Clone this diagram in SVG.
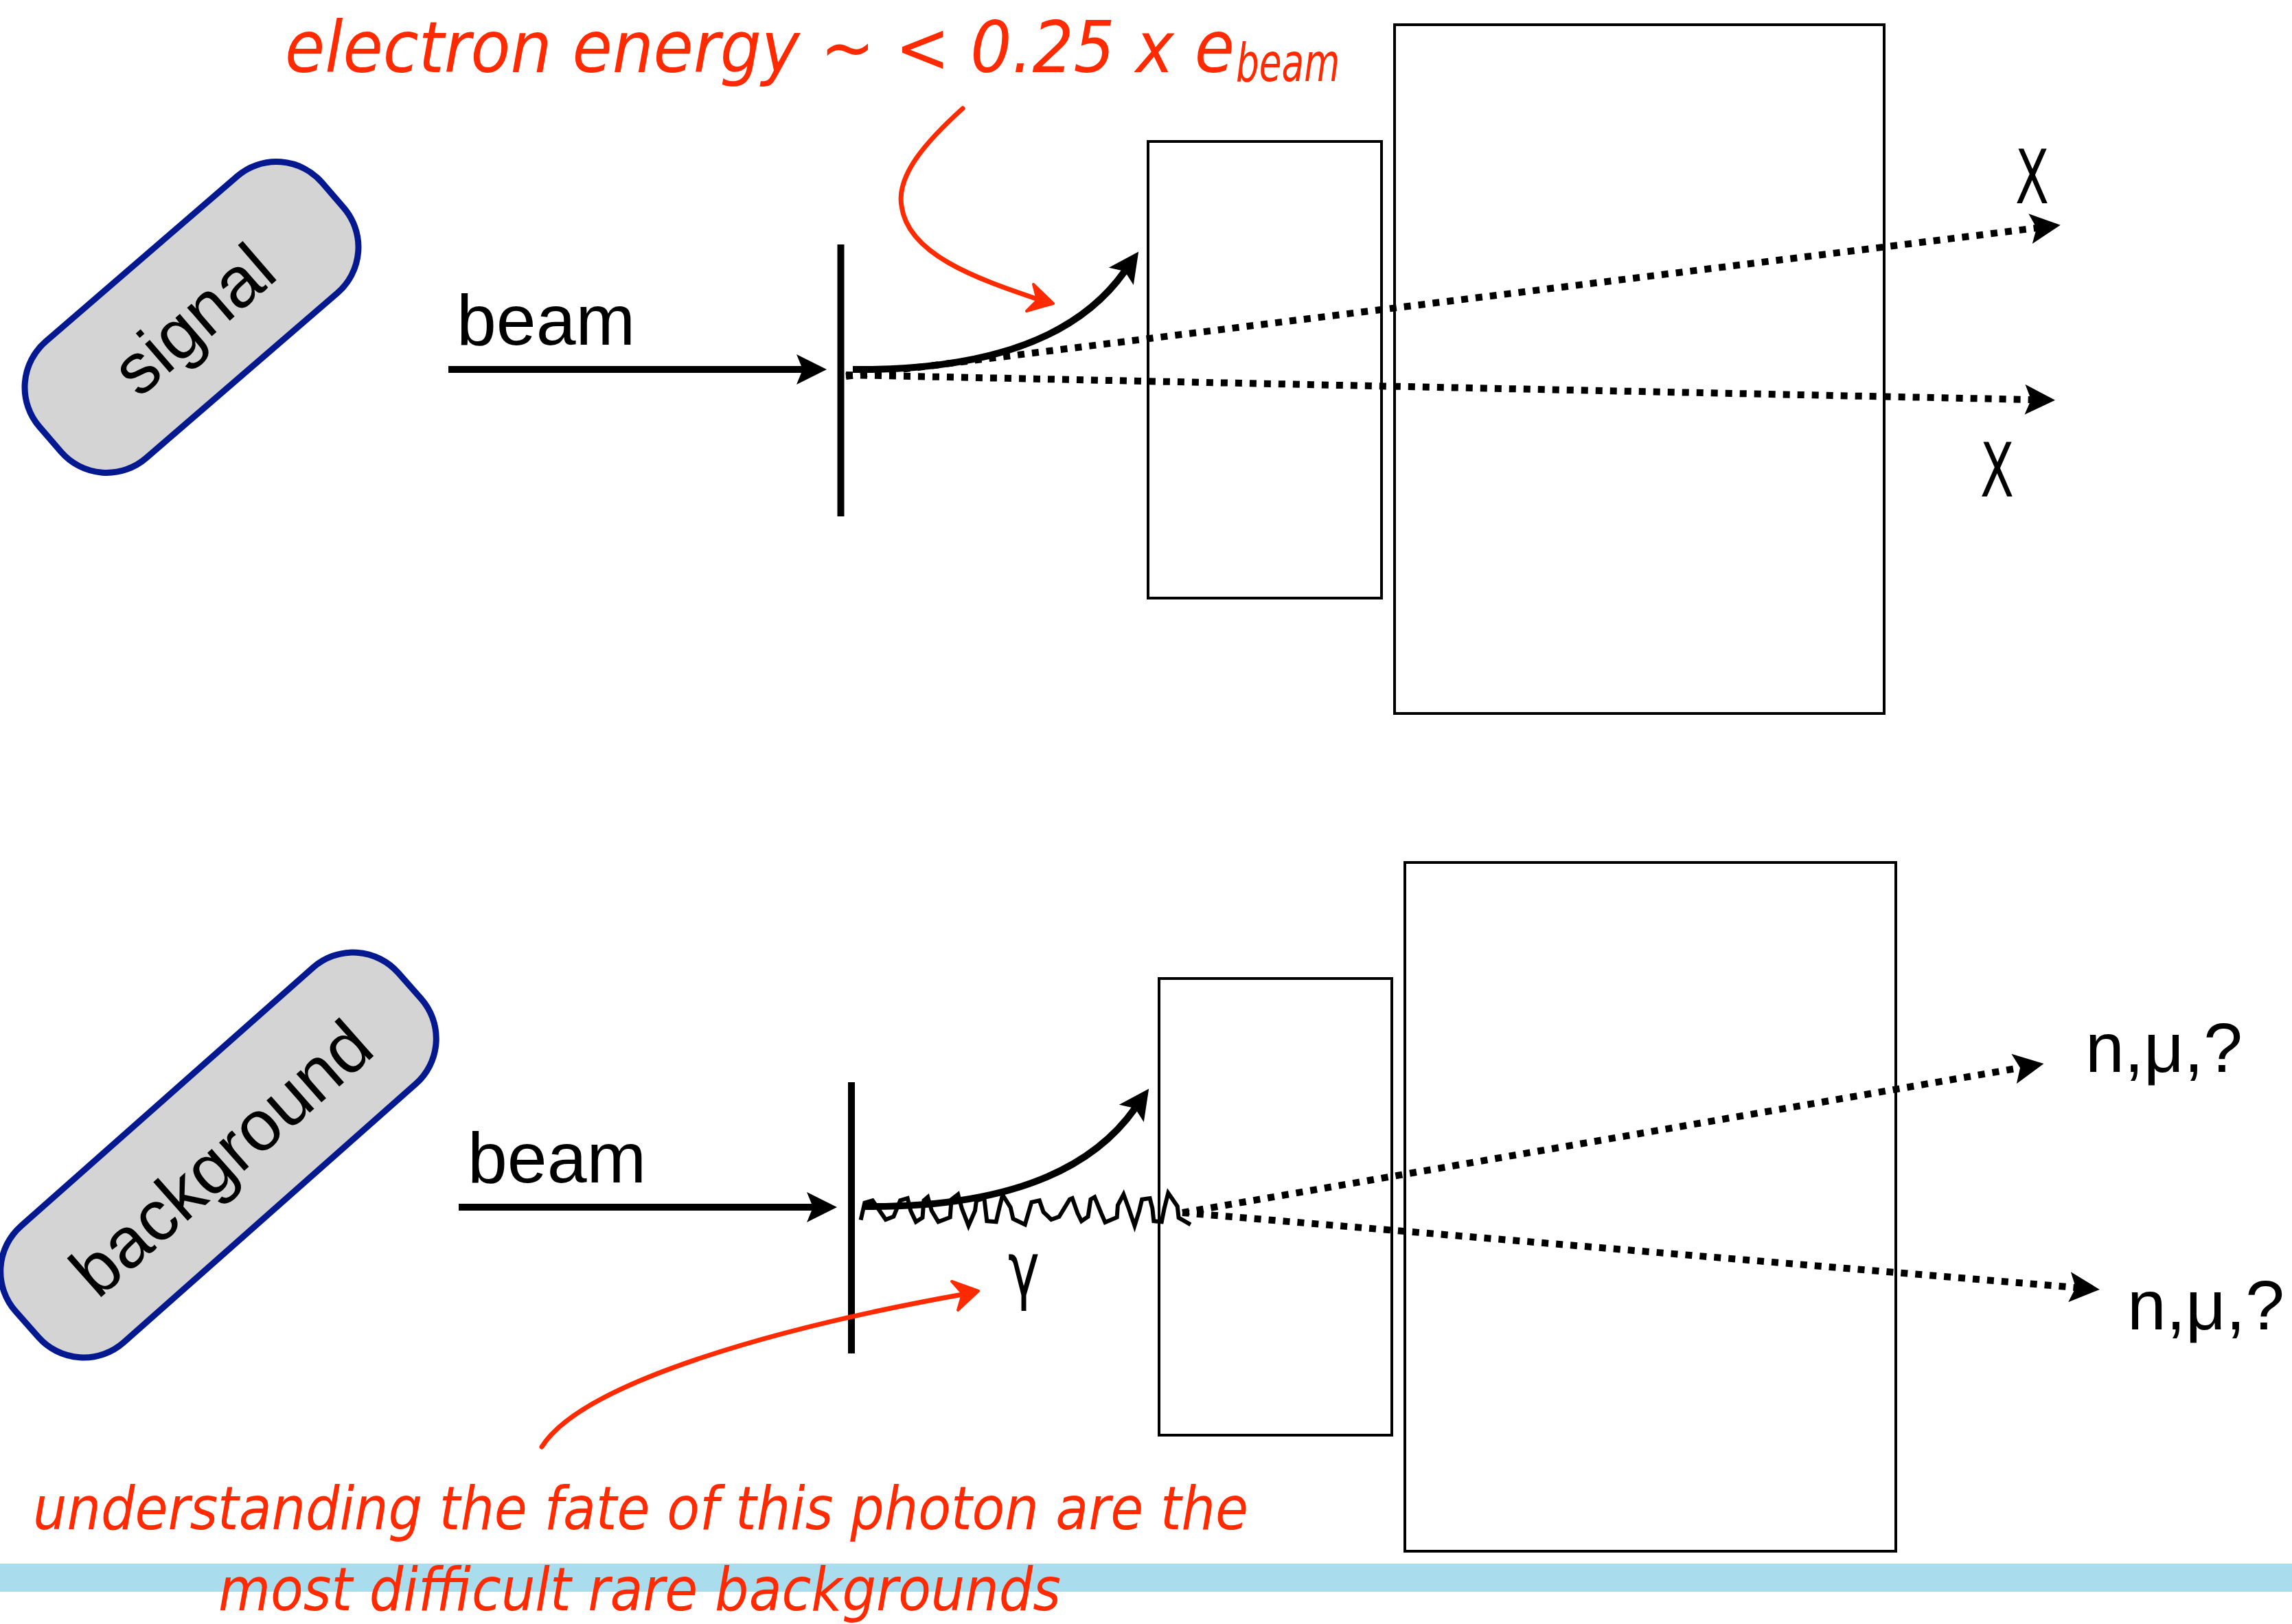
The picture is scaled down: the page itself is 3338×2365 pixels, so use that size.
<svg xmlns="http://www.w3.org/2000/svg" width="3338" height="2365" viewBox="0 0 3338 2365">
  <style>
    .pill{fill:#d4d4d4;stroke:#04198f;stroke-width:9}
    .lbl{font-family:"Liberation Sans",Arial,Helvetica,sans-serif;fill:#000}
    .nar{font-family:"Liberation Sans Narrow","DejaVu Sans Condensed","Liberation Sans",sans-serif;fill:#000}
    .hand{font-family:"Liberation Sans Narrow","DejaVu Sans Condensed","Liberation Sans",sans-serif;font-style:italic;fill:#ff2a00}
    .box{fill:none;stroke:#000;stroke-width:4}
    .target{stroke:#000;stroke-width:10;fill:none}
    .solid{fill:none;stroke:#000;stroke-width:10}
    .dots{fill:none;stroke:#000;stroke-width:10;stroke-dasharray:10 11}
    .photon{fill:none;stroke:#000;stroke-width:6;stroke-linejoin:miter}
    .red{fill:none;stroke:#ff2a00;stroke-width:7;stroke-linecap:round;stroke-linejoin:round}
    .redhead{fill:#ff2a00;stroke:#ff2a00;stroke-width:4;stroke-linejoin:round}
  </style>
  <defs>
    <marker id="ah" markerUnits="userSpaceOnUse" orient="auto" refX="0" refY="0" markerWidth="100" markerHeight="100" viewBox="-50 -50 100 100" overflow="visible">
      <path d="M-9,-22 L35,0 L-9,22 L0,0 Z" fill="#000"/>
    </marker>
  </defs>

  <rect id="bottom-bar" x="0" y="2277" width="3338" height="41" fill="#a9ddee"/>

  <!-- labels / nodes -->
  <g id="node-signal" transform="translate(279,462) rotate(-40.8)">
    <rect class="pill" x="-272" y="-112" width="544" height="224" rx="88" ry="88"/>
    <text class="lbl" x="0" y="40" font-size="104" text-anchor="middle">signal</text>
  </g>
  <g id="node-background" transform="translate(318,1682) rotate(-41.5)">
    <rect class="pill" x="-372" y="-113" width="744" height="226" rx="88" ry="88"/>
    <text class="lbl" x="0" y="42" font-size="104" text-anchor="middle">background</text>
  </g>

  <!-- top setup -->
  <g id="node-top-target"><line class="target" x1="1224.5" y1="356" x2="1224.5" y2="752"/></g>
  <g id="node-top-box1"><rect class="box" x="1672" y="206" width="340" height="665"/></g>
  <g id="node-top-box2"><rect class="box" x="2031" y="36" width="713" height="1003"/></g>
  <g id="node-top-beam"><text class="lbl" x="665" y="502" font-size="104">beam</text></g>
  <g id="node-top-x1"><text class="nar" x="2935" y="296" font-size="108" textLength="49" lengthAdjust="spacingAndGlyphs">X</text></g>
  <g id="node-top-x2"><text class="nar" x="2884" y="723" font-size="108" textLength="49" lengthAdjust="spacingAndGlyphs">X</text></g>

  <!-- bottom setup -->
  <g id="node-bot-target"><line class="target" x1="1240" y1="1576" x2="1240" y2="1971"/></g>
  <g id="node-bot-box1"><rect class="box" x="1688" y="1425" width="339" height="665"/></g>
  <g id="node-bot-box2"><rect class="box" x="2046" y="1256" width="715" height="1003"/></g>
  <g id="node-bot-beam"><text class="lbl" x="681" y="1722" font-size="104">beam</text></g>
  <g id="node-gamma"><text class="nar" x="1468" y="1886" font-size="108" textLength="46" lengthAdjust="spacingAndGlyphs">γ</text></g>
  <g id="node-nmu1"><text class="lbl" x="3037" y="1561" font-size="102">n,μ,?</text></g>
  <g id="node-nmu2"><text class="lbl" x="3098" y="1936" font-size="102">n,μ,?</text></g>

  <!-- connectors -->
  <g id="connectors">
    <path class="solid" d="M653,538 H1169" marker-end="url(#ah)"/>
    <path class="solid" d="M1242,538 C1450,540 1574.5,485 1638,395" marker-end="url(#ah)"/>
    <path class="dots" d="M1232,548 L2966,332" marker-end="url(#ah)"/>
    <path class="dots" d="M1232,546 L2958,582" marker-end="url(#ah)"/>

    <path class="solid" d="M668,1758 H1184" marker-end="url(#ah)"/>
    <polyline class="photon" points="1253.6,1776.7 1259.3,1751.7 1270.8,1748.3 1289.9,1776 1301.4,1771.7 1311,1748.3 1321.7,1745 1326.3,1763.3 1333.9,1779.3 1343.5,1773.3 1345.4,1748.3 1351.2,1743.3 1356.9,1763.3 1366.5,1779.3 1383.7,1772.7 1385.6,1746.7 1395.2,1739.3 1400.9,1760 1410.5,1785 1420,1763.3 1422,1748.3 1433.4,1745 1437.3,1778.3 1450.7,1779.3 1455.6,1758.3 1460.2,1740 1471.7,1758.3 1475.5,1775 1492.8,1783.3 1502.3,1750.7 1513.8,1748.3 1519.6,1765 1531,1776 1542.5,1771.7 1557.8,1746.7 1561.7,1745 1569.3,1766.7 1575,1778.3 1584.6,1771.7 1588.4,1746.7 1594.2,1743.3 1603.7,1766.7 1609.5,1780 1626.7,1772.7 1627.9,1755 1636.3,1739.3 1643.9,1760 1652.4,1785 1659.2,1763.3 1663.1,1746.7 1674.6,1745 1678.4,1760 1680.3,1778.3 1691.8,1779.3 1695.6,1760 1701.3,1737.3 1714.7,1756.7 1716.6,1773.3 1733.9,1783.3"/>
    <path class="solid" d="M1257,1757 C1465,1759 1589.5,1704 1653,1614" marker-end="url(#ah)"/>
    <path class="dots" d="M1722,1766 L2942,1555" marker-end="url(#ah)"/>
    <path class="dots" d="M1722,1766 L3023,1875" marker-end="url(#ah)"/>

    <!-- red annotation arrows -->
    <path class="red" d="M1402,158 C1350,205 1305,255 1313,300 C1322,370 1420,405 1512,436"/>
    <path class="redhead" d="M1505,414 L1534,442 L1495,453 L1511,437 Z"/>
    <path class="red" d="M789,2107 C850,2010 1150,1930 1402,1885"/>
    <path class="redhead" d="M1386,1866 L1425,1880 L1395,1908 L1402,1884 Z"/>
  </g>

  <!-- red annotation texts -->
  <g id="note-top">
    <text class="hand" x="415" y="105" font-size="104" textLength="1383" lengthAdjust="spacingAndGlyphs">electron energy ~ &lt; 0.25 x e</text>
    <text class="hand" x="1800" y="118" font-size="76" textLength="151" lengthAdjust="spacingAndGlyphs">beam</text>
  </g>
  <g id="note-bottom">
    <text class="hand" x="48" y="2227" font-size="88" textLength="1770" lengthAdjust="spacingAndGlyphs">understanding the fate of this photon are the</text>
    <text class="hand" x="318" y="2345" font-size="88" textLength="1227" lengthAdjust="spacingAndGlyphs">most difficult rare backgrounds</text>
  </g>
</svg>
